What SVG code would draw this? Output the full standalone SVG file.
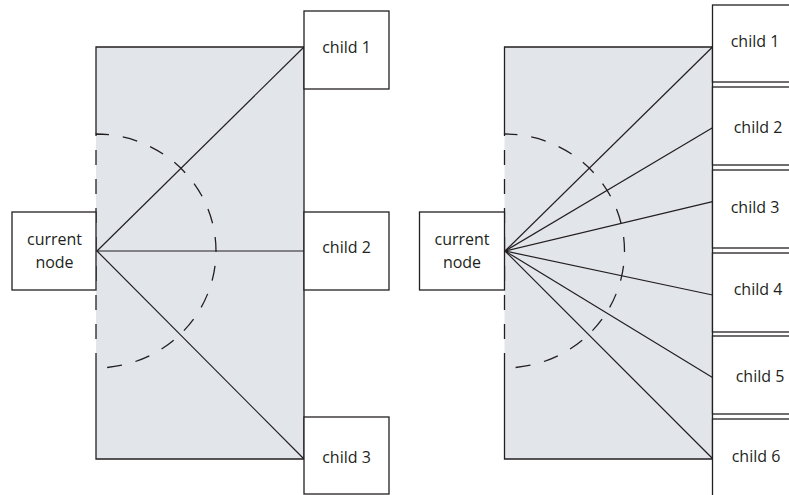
<svg xmlns="http://www.w3.org/2000/svg" width="789" height="495" viewBox="0 0 789 495">
<style>
.bg{fill:#e2e5ea;stroke:none}
.edge{fill:none;stroke:#231f20;stroke-width:1.3}
.box{fill:#ffffff;stroke:#231f20;stroke-width:1.3}
.dash{fill:none;stroke:#231f20;stroke-width:1.3;stroke-dasharray:15 14}
.conn{stroke:#231f20;stroke-width:1.2;fill:none}
text{font-family:"Open Sans","Liberation Sans",sans-serif;font-size:16px;fill:#231f20;text-anchor:middle}
</style>
<rect width="789" height="495" fill="#ffffff"/>
<g id="region-left">
<rect class="bg" x="96" y="47" width="208" height="412"/>
<path class="edge" d="M96,134 V47 H304 V459 H96 V368"/>
<path class="dash" d="M96,368 V134 A120,117 0 0 1 96,368"/>
</g>
<g id="region-right">
<rect class="bg" x="504.5" y="47" width="208" height="412"/>
<path class="edge" d="M504.5,134 V47 H712.5 V459 H504.5 V368"/>
<path class="dash" d="M504.5,368 V134 A120,117 0 0 1 504.5,368"/>
</g>
<g id="connectors">
<line class="conn" x1="97" y1="251" x2="304" y2="47"/>
<line class="conn" x1="97" y1="251" x2="304" y2="251"/>
<line class="conn" x1="97" y1="251" x2="304" y2="459"/>
<line class="conn" x1="505" y1="251" x2="712.5" y2="47"/>
<line class="conn" x1="505" y1="251" x2="712.5" y2="127.7"/>
<line class="conn" x1="505" y1="251" x2="712.5" y2="201.7"/>
<line class="conn" x1="505" y1="251" x2="712.5" y2="295"/>
<line class="conn" x1="505" y1="251" x2="712.5" y2="377.5"/>
<line class="conn" x1="505" y1="251" x2="712.5" y2="458.5"/>
</g>
<g id="current-left">
<rect class="box" x="12" y="212" width="84" height="78"/>
<text x="54.5" y="245">current</text>
<text x="54.5" y="268">node</text>
</g>
<g id="l-child1">
<rect class="box" x="304" y="11" width="85" height="78"/>
<text x="346.5" y="53">child 1</text>
</g>
<g id="l-child2">
<rect class="box" x="304" y="212" width="85" height="78"/>
<text x="346.5" y="253">child 2</text>
</g>
<g id="l-child3">
<rect class="box" x="304" y="417" width="85" height="77"/>
<text x="346.5" y="463">child 3</text>
</g>
<g id="current-right">
<rect class="box" x="419.5" y="212" width="85" height="78"/>
<text x="462" y="245">current</text>
<text x="462" y="268">node</text>
</g>
<g id="r-child1">
<rect class="box" x="712.5" y="5" width="90" height="77"/>
<text x="755" y="47">child 1</text>
</g>
<g id="r-child2">
<rect class="box" x="712.5" y="87" width="90" height="78"/>
<text x="758" y="133">child 2</text>
</g>
<g id="r-child3">
<rect class="box" x="712.5" y="170" width="90" height="78"/>
<text x="755" y="213">child 3</text>
</g>
<g id="r-child4">
<rect class="box" x="712.5" y="253" width="90" height="79"/>
<text x="758" y="295">child 4</text>
</g>
<g id="r-child5">
<rect class="box" x="712.5" y="336" width="90" height="78"/>
<text x="760" y="382">child 5</text>
</g>
<g id="r-child6">
<rect class="box" x="712.5" y="419" width="90" height="90"/>
<text x="756" y="462">child 6</text>
</g>
</svg>
